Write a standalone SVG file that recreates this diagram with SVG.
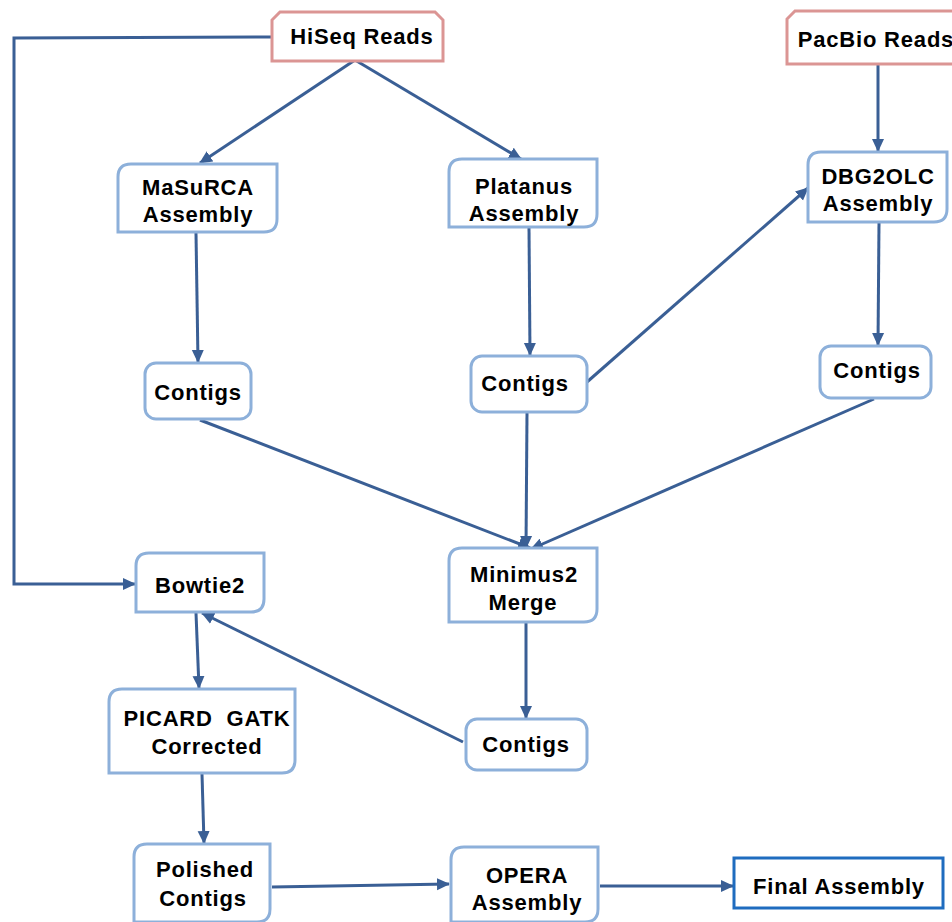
<svg xmlns="http://www.w3.org/2000/svg" width="952" height="922" viewBox="0 0 952 922">
<defs>
<marker id="ah" markerUnits="userSpaceOnUse" markerWidth="13" markerHeight="13" viewBox="0 0 13 13" refX="12" refY="6.5" orient="auto">
<path d="M0,0.5 L13,6.5 L0,12.5 z" fill="#3a5f95"/>
</marker>
<style>
.box{fill:#fff;stroke:#8db0da;stroke-width:3}
.read{fill:#fff;stroke:#db9594;stroke-width:3}
.fin{fill:#fff;stroke:#1f6cbf;stroke-width:3}
.t{font-family:"Liberation Sans",Arial,sans-serif;font-weight:bold;font-size:22px;letter-spacing:0.8px;fill:#000;text-anchor:middle}
.c{fill:none;stroke:#3a5f95;stroke-width:3;marker-end:url(#ah)}
</style>
</defs>
<rect width="952" height="922" fill="#fff"/>
<g id="connectors">
<polyline class="c" points="272,37 14,38 14,584 135,584"/>
<line class="c" x1="355" y1="60" x2="200" y2="163"/>
<line class="c" x1="355" y1="60" x2="521" y2="159"/>
<line class="c" x1="878" y1="64" x2="878" y2="151"/>
<line class="c" x1="196" y1="233" x2="198" y2="362"/>
<line class="c" x1="529" y1="228" x2="530" y2="355"/>
<line class="c" x1="587" y1="382" x2="808" y2="188"/>
<line class="c" x1="879" y1="223" x2="878" y2="345"/>
<line class="c" x1="200" y1="420" x2="530" y2="548"/>
<line class="c" x1="527" y1="413" x2="526" y2="548"/>
<line class="c" x1="874" y1="399" x2="531" y2="549"/>
<line class="c" x1="526" y1="623" x2="526" y2="718"/>
<line class="c" x1="463" y1="742" x2="202" y2="613"/>
<line class="c" x1="196" y1="613" x2="199" y2="688"/>
<line class="c" x1="202" y1="774" x2="204" y2="843"/>
<line class="c" x1="272" y1="887" x2="449" y2="884"/>
<line class="c" x1="600" y1="886" x2="733" y2="886"/>
</g>
<g id="hiseq">
<path class="read" d="M280,12 H435 L443,20 V61 H272 V20 Z"/>
<text class="t" x="362" y="44">HiSeq Reads</text>
</g>
<g id="pacbio">
<path class="read" d="M795,11 H960 V64 H787 V19 Z"/>
<text class="t" x="876" y="47">PacBio Reads</text>
</g>
<g id="masurca">
<path class="box" d="M131,164 H277 V219 Q277,232 264,232 H118 V177 Q118,164 131,164 Z"/>
<text class="t" x="198" y="195">MaSuRCA</text>
<text class="t" x="198" y="222">Assembly</text>
</g>
<g id="platanus">
<path class="box" d="M462,159 H597 V214 Q597,227 584,227 H449 V172 Q449,159 462,159 Z"/>
<text class="t" x="524" y="194">Platanus</text>
<text class="t" x="524" y="221">Assembly</text>
</g>
<g id="dbg2olc">
<path class="box" d="M821,152 H947 V209 Q947,222 934,222 H808 V165 Q808,152 821,152 Z"/>
<text class="t" x="878" y="184">DBG2OLC</text>
<text class="t" x="878" y="211">Assembly</text>
</g>
<g id="contigs1">
<rect class="box" x="145" y="363" width="106" height="56" rx="11"/>
<text class="t" x="198" y="400">Contigs</text>
</g>
<g id="contigs2">
<rect class="box" x="471" y="356" width="116" height="56" rx="11"/>
<text class="t" x="525" y="391">Contigs</text>
</g>
<g id="contigs3">
<rect class="box" x="820" y="346" width="111" height="52" rx="11"/>
<text class="t" x="877" y="378">Contigs</text>
</g>
<g id="minimus2">
<path class="box" d="M462,548 H597 V609 Q597,622 584,622 H449 V561 Q449,548 462,548 Z"/>
<text class="t" x="524" y="582">Minimus2</text>
<text class="t" x="523" y="610">Merge</text>
</g>
<g id="bowtie2">
<path class="box" d="M149,553 H264 V599 Q264,612 251,612 H136 V566 Q136,553 149,553 Z"/>
<text class="t" x="200" y="593">Bowtie2</text>
</g>
<g id="picard">
<path class="box" d="M122,689 H295 V760 Q295,773 282,773 H109 V702 Q109,689 122,689 Z"/>
<text class="t" x="207" y="726" style="white-space:pre">PICARD  GATK</text>
<text class="t" x="207" y="754">Corrected</text>
</g>
<g id="contigs4">
<rect class="box" x="466" y="719" width="121" height="51" rx="11"/>
<text class="t" x="526" y="752">Contigs</text>
</g>
<g id="polished">
<path class="box" d="M147,844 H270 V909 Q270,922 257,922 H134 V857 Q134,844 147,844 Z"/>
<text class="t" x="205" y="877">Polished</text>
<text class="t" x="203" y="906">Contigs</text>
</g>
<g id="opera">
<path class="box" d="M464,847 H598 V909 Q598,922 585,922 H451 V860 Q451,847 464,847 Z"/>
<text class="t" x="527" y="883">OPERA</text>
<text class="t" x="527" y="910">Assembly</text>
</g>
<g id="final">
<rect class="fin" x="734" y="858" width="209" height="50"/>
<text class="t" x="839" y="894">Final Assembly</text>
</g>
</svg>
